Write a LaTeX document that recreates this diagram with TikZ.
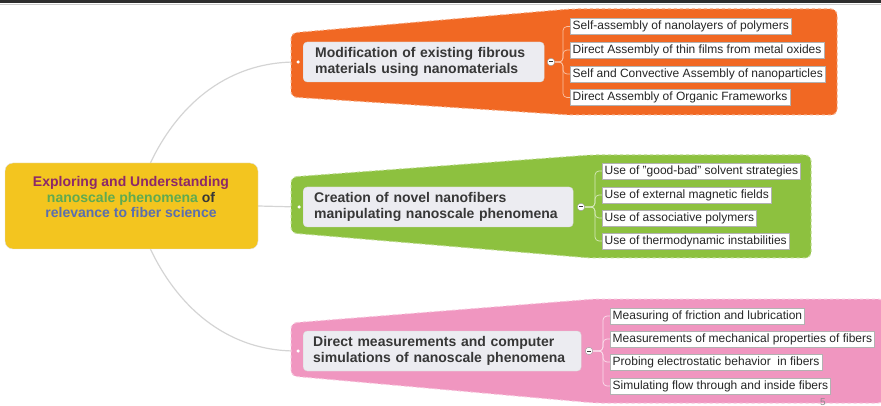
\documentclass[tikz,border=0pt]{standalone}
\usepackage{fontspec}
\setmainfont{Liberation Sans}
\usepackage{tikz}
\usepackage{xcolor}
\definecolor{rootyellow}{RGB}{243, 197, 31}
\definecolor{modorange}{RGB}{241, 104, 35}
\definecolor{cregreen}{RGB}{141, 193, 63}
\definecolor{dirpink}{RGB}{240, 150, 192}
\definecolor{boxgrey}{RGB}{236, 236, 241}
\definecolor{textgrey}{RGB}{55, 55, 55}
\definecolor{linkgrey}{RGB}{212, 212, 212}
\definecolor{rootpurple}{RGB}{140, 40, 105}
\definecolor{rootgreen}{RGB}{95, 170, 80}
\definecolor{rootblue}{RGB}{90, 110, 175}
\definecolor{barblack}{RGB}{45, 45, 45}
\pgfdeclarelayer{links}
\pgfdeclarelayer{panels}
\pgfsetlayers{links,panels,main}

\begin{document}
\begin{tikzpicture}[x=1pt, y=-1pt,
    rootbox/.style={draw=black!12, fill=rootyellow, rounded corners=8pt, minimum width=253pt, minimum height=86pt},
    topic/.style={draw=black!15, fill=boxgrey, rounded corners=4pt, align=left, anchor=west, inner xsep=12pt, minimum height=40pt, text=textgrey, font=\fontsize{14}{15.5}\selectfont\bfseries},
    leaf/.style={draw=black!30, line width=0.4pt, fill=white, anchor=west, inner xsep=2.5pt, inner ysep=0pt, minimum height=16pt, text=black!85, font=\fontsize{12}{13}\selectfont},
    knob/.style={circle, draw=black!40, fill=white, minimum size=7.5pt, inner sep=0pt,
        path picture={\draw[line width=1pt, textgrey] ([xshift=-2pt]path picture bounding box.center) -- ([xshift=2pt]path picture bounding box.center);}},
    plug/.style={circle, fill=white, minimum size=3.5pt, inner sep=0pt},
    link/.style={draw=linkgrey, line width=1.2pt},
    branch/.style={rounded corners=4pt, line width=0.7pt},
    panel/.style={rounded corners=6pt, line width=1pt, dashed}]
    \useasboundingbox (0,0) rectangle (881,406);

    % Slide bar and page number
    \fill[barblack] (0,0) rectangle (881,3.5);
    \draw[black!20] (0,4.5) -- (881,4.5);
    \node[anchor=base, text=black!45, font=\fontsize{10}{12}\selectfont] (pagenum) at (823,405.5) {5};

    % Root topic
    \node[rootbox] (root) at (131.5,206) {};
    \node[align=center, font=\fontsize{14}{15.5}\selectfont\bfseries] (roottext) at (131,197)
        {\textcolor{rootpurple}{Exploring and Understanding}\\
         \textcolor{rootgreen}{nanoscale phenomena} \textcolor{textgrey}{of}\\
         \textcolor{rootblue}{relevance to fiber science}};

    % Branch 1 (orange)
    \node[plug] (mplug) at (298,62) {};
    \node[topic, text width=217pt] (modbox) at (303,62) {Modification of existing fibrous\\materials using nanomaterials};
    \node[knob] (mknob) at (551,62) {};
    \node[leaf] (m1) at (570,26.5) {Self-assembly of nanolayers of polymers};
    \node[leaf] (m2) at (570,50) {Direct Assembly of thin films from metal oxides};
    \node[leaf] (m3) at (570,74) {Self and Convective Assembly of nanoparticles};
    \node[leaf] (m4) at (570,97.5) {Direct Assembly of Organic Frameworks};

    % Branch 2 (green)
    \node[plug] (cplug) at (299,207) {};
    \node[topic, text width=248pt, inner xsep=11pt] (crebox) at (303,207) {Creation of novel nanofibers\\manipulating nanoscale phenomena};
    \node[knob] (cknob) at (581,207) {};
    \node[leaf] (c1) at (602,171) {Use of "good-bad" solvent strategies};
    \node[leaf] (c2) at (602,195) {Use of external magnetic fields};
    \node[leaf] (c3) at (602,218) {Use of associative polymers};
    \node[leaf] (c4) at (602,241) {Use of thermodynamic instabilities};

    % Branch 3 (pink)
    \node[plug] (dplug) at (298,351) {};
    \node[topic, text width=258pt, inner xsep=10pt] (dirbox) at (303,351) {Direct measurements and computer\\simulations of nanoscale phenomena};
    \node[knob] (dknob) at (589,351) {};
    \node[leaf] (d1) at (610,316) {Measuring of friction and lubrication};
    \node[leaf] (d2) at (610,339) {Measurements of mechanical properties of fibers};
    \node[leaf] (d3) at (610,362) {Probing electrostatic behavior~ in fibers};
    \node[leaf] (d4) at (610,386) {Simulating flow through and inside fibers};

    % Brackets
    \foreach \n in {m1,m2,m3,m4}
        \draw[branch, modorange!40!white] (\n.west) -- ++(-7,0) |- (mknob.east);
    \foreach \n in {c1,c2,c3,c4}
        \draw[branch, cregreen!35!white] (\n.west) -- ++(-7,0) |- (cknob.east);
    \foreach \n in {d1,d2,d3,d4}
        \draw[branch, dirpink!30!white] (\n.west) -- ++(-7,0) |- (dknob.east);

    % Callout panels
    \begin{pgfonlayer}{panels}
        \draw[panel, fill=modorange, draw=modorange!55!white] (291,33) -- (570,9) -- (837,9) -- (837,115) -- (570,115) -- (291,97) -- cycle;
        \draw[panel, fill=cregreen, draw=cregreen!55!white] (291,177) -- (590,155) -- (811,155) -- (811,258) -- (590,258) -- (291,233) -- cycle;
        \draw[panel, fill=dirpink, draw=dirpink!55!white] (291,323) -- (595,299) -- (884,299) -- (884,403) -- (595,403) -- (291,376) -- cycle;
    \end{pgfonlayer}

    % Links from root
    \begin{pgfonlayer}{links}
        \draw[link] ([xshift=19pt]root.north) .. controls +(25,-53) and +(-75,0) .. (mplug);
        \draw[link] (root.east) -- (cplug);
        \draw[link] ([xshift=19pt]root.south) .. controls +(25,53) and +(-75,0) .. (dplug);
    \end{pgfonlayer}
\end{tikzpicture}
\end{document}
